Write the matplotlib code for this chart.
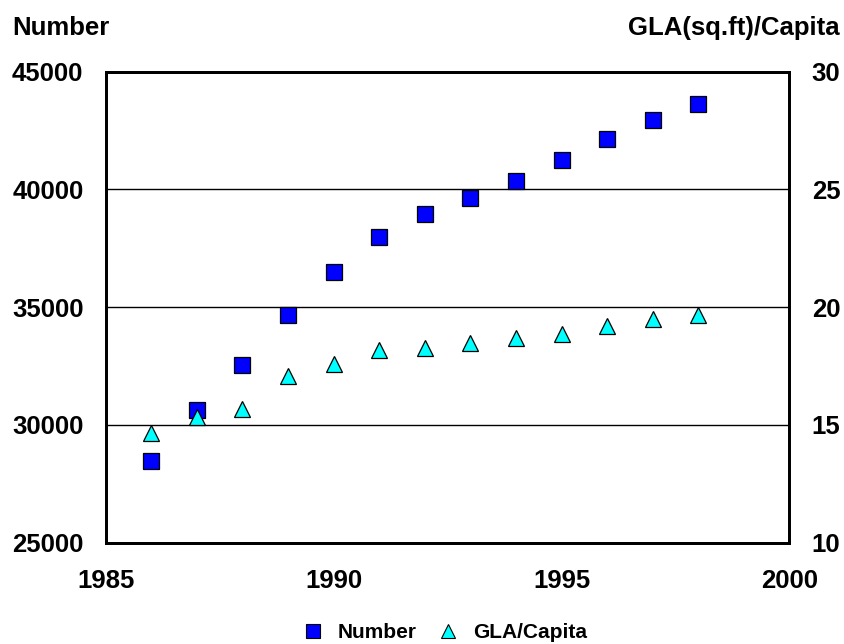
import matplotlib
matplotlib.use("Agg")
import matplotlib.pyplot as plt
from matplotlib.lines import Line2D

years = [1986, 1987, 1988, 1989, 1990, 1991, 1992, 1993, 1994, 1995, 1996, 1997, 1998]
number = [28470, 30620, 32550, 34670, 36510, 37970, 38960, 39630, 40360, 41240, 42130, 42930, 43610]
gla_per_capita = [14.66, 15.34, 15.68, 17.07, 17.58, 18.18, 18.26, 18.47, 18.67, 18.88, 19.19, 19.49, 19.66]

left_ticks = [25000, 30000, 35000, 40000, 45000]
right_ticks = [10, 15, 20, 25, 30]
x_ticks = [1985, 1990, 1995, 2000]

plt.rcParams['font.family'] = ['Liberation Sans', 'DejaVu Sans']
plt.rcParams['font.weight'] = 'bold'

fig = plt.figure(figsize=(8.45, 6.44), dpi=100)
ax = fig.add_axes([105.7 / 845, 1 - 542.8 / 644, (789.5 - 105.7) / 845, (542.8 - 71.5) / 644])
ax2 = ax.twinx()

ax.set_xlim(1985, 2000)
ax.set_ylim(25000, 45000)
ax2.set_ylim(10, 30)

for y in [30000, 35000, 40000]:
    ax.axhline(y, color='black', lw=1.0, zorder=1)

ax.plot(years, number, linestyle='none', marker='s', markersize=12,
        markerfacecolor='#0000FF', markeredgecolor='black', markeredgewidth=0.9, zorder=3)
ax2.plot(years, gla_per_capita, linestyle='none', marker='^', markersize=12,
         markerfacecolor='#00FFFF', markeredgecolor='black', markeredgewidth=0.9, zorder=3)

ax.set_xticks(x_ticks)
ax.set_xticklabels([str(t) for t in x_ticks])
ax.set_yticks(left_ticks)
ax.set_yticklabels([str(t) for t in left_ticks])
ax2.set_yticks(right_ticks)
ax2.set_yticklabels([str(t) for t in right_ticks])

ax.tick_params(axis='both', length=0, labelsize=18.5)
ax.tick_params(axis='y', pad=16)
ax.tick_params(axis='x', pad=19)
ax2.tick_params(axis='y', length=0, labelsize=18.5, pad=16)

for a in (ax, ax2):
    for s in a.spines.values():
        s.set_linewidth(2.0)
        s.set_color('black')

fig.text(12 / 845, 1 - 35 / 644, 'Number', fontsize=18.5, fontweight='bold', ha='left', va='baseline')
fig.text(840 / 845, 1 - 35 / 644, 'GLA(sq.ft)/Capita', fontsize=18.5, fontweight='bold', ha='right', va='baseline')

handles = [
    Line2D([], [], linestyle='none', marker='s', markersize=10, markerfacecolor='#0000FF',
           markeredgecolor='black', markeredgewidth=0.8),
    Line2D([], [], linestyle='none', marker='^', markersize=10, markerfacecolor='#00FFFF',
           markeredgecolor='black', markeredgewidth=0.8),
]
fig.legend(handles, ['Number', 'GLA/Capita'], loc='center left', bbox_to_anchor=(292.0 / 845, 1 - 633 / 644),
           ncol=2, frameon=False, handlelength=1.0, handletextpad=0.7, borderpad=0,
           columnspacing=1.0, prop={'weight': 'bold', 'size': 15})

fig.savefig('out.png', dpi=100)
